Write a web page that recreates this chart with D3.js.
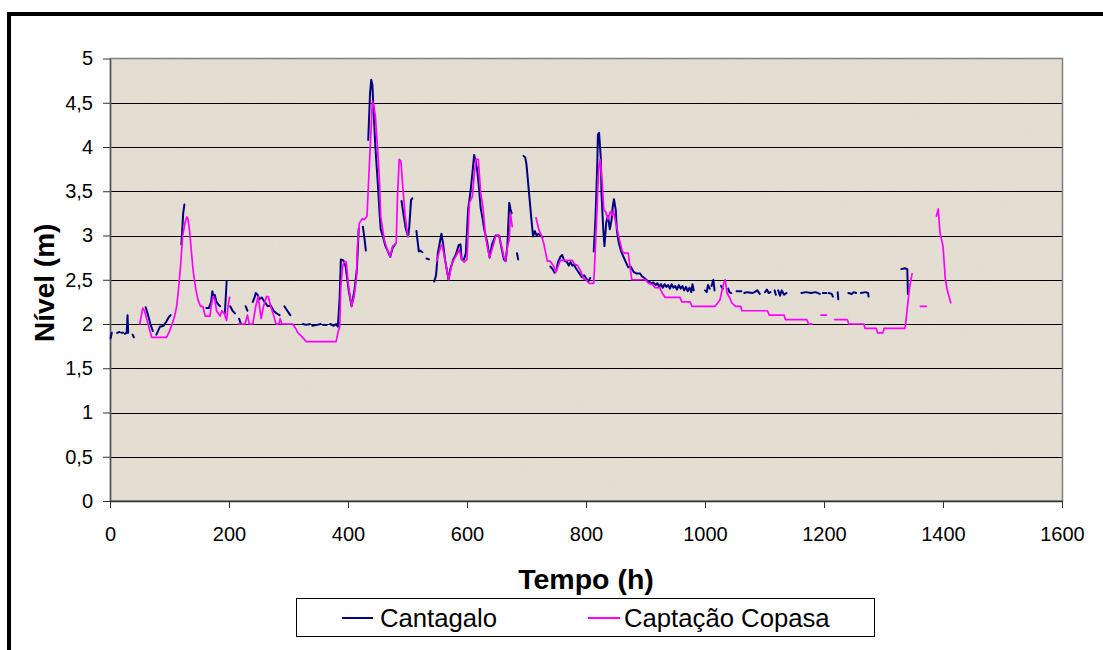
<!DOCTYPE html>
<html>
<head>
<meta charset="utf-8">
<script src="https://cdn.jsdelivr.net/npm/d3@7"></script>
<style>
  html, body { margin: 0; padding: 0; background: #ffffff; }
  svg { display: block; }
  text { font-family: "Liberation Sans", Arial, sans-serif; fill: #000; }
</style>
</head>
<body>
<svg id="chart" width="1103" height="650"></svg>
<script>
// ---------------- DATA ----------------
const xTicks = [0, 200, 400, 600, 800, 1000, 1200, 1400, 1600];
const yTicks = [0, 0.5, 1, 1.5, 2, 2.5, 3, 3.5, 4, 4.5, 5];
const yTickLabels = ["0", "0,5", "1", "1,5", "2", "2,5", "3", "3,5", "4", "4,5", "5"];
const seriesNames = ["Cantagalo", "Captação Copasa"];
const xTitle = "Tempo (h)";
const yTitle = "Nível (m)";

// [tempo (h), nível (m)] ; null = gap in the record
const cantagalo = [
  [1,1.84],[3,1.9],null,
  [12,1.9],[16,1.91],null,
  [19,1.9],[22,1.9],null,
  [25,1.89],[28,1.9],[29.5,2.1],[30.5,1.9],null,
  [38,1.88],[40,1.85],null,
  [60,2.19],[64,2.1],[68,2.0],[72,1.92],null,
  [78,1.88],[84,1.97],[90,1.98],[95,2.03],[99,2.08],[102,2.1],null,
  [120,2.9],[123,3.25],[125,3.35],null,
  [162,2.18],[166,2.18],[170,2.25],[172,2.37],[174,2.3],[176,2.33],[179,2.25],[182,2.22],[185,2.2],null,
  [193,2.12],[195,2.35],[196,2.48],null,
  [202,2.2],[206,2.15],[210,2.12],null,
  [217,2.06],[220,2.0],null,
  [228,2.2],[231,2.15],null,
  [240,2.25],[243,2.3],[245,2.35],[248,2.33],[251,2.28],[255,2.3],[260,2.25],[265,2.2],[270,2.21],[275,2.15],[280,2.12],[285,2.1],null,
  [293,2.2],[298,2.15],[303,2.1],null,
  [324,2.0],[330,1.99],[336,2.0],null,[340,1.98],[348,1.99],[354,2.0],null,[358,1.99],[364,1.99],null,
  [370,2.0],[376,1.98],[380,2.0],[383,1.97],[386,2.3],[388,2.73],[392,2.72],[396,2.65],[401,2.39],[406,2.2],[411,2.39],[415,2.62],[418,3.08],null,
  [425,3.1],[428,2.95],[430,2.83],null,
  [434,4.08],[437,4.6],[439,4.76],[441,4.7],[443,4.4],[446,4.0],[450,3.6],[453,3.26],[455,3.07],[459,2.98],[463,2.88],[467,2.82],[471,2.76],[475,2.86],[479,2.9],null,
  [490,3.39],[493,3.25],[497,3.08],[501,2.99],[503,3.1],[506,3.4],[508,3.42],null,
  [515,3.05],[519,2.82],[521,2.83],[525,2.81],null,
  [532,2.74],[536,2.73],null,
  [545,2.48],[548,2.55],[551,2.8],[557,3.02],[560,2.9],[563,2.73],[569,2.5],[572,2.62],[577,2.73],[581,2.78],[586,2.89],[589,2.9],[591,2.73],[595,2.73],[598,2.8],
  [602,3.3],[606,3.5],[609,3.7],[612,3.91],[614,3.85],[617,3.75],[620,3.55],[623,3.31],[626,3.2],[629,3.07],[634,2.92],[638,2.75],[642,2.9],[648,3.0],[654,3.0],
  [658,2.86],[662,2.73],[665,2.71],[668,2.9],[671,3.37],[673,3.3],[675,3.25],null,
  [684,2.8],[686,2.73],null,
  [695,3.9],[698,3.88],[700,3.8],[704,3.5],[708,3.2],[711,2.99],[714,3.05],[717,3.0],[720,3.02],[724,3.0],[727,2.98],null,
  [740,2.65],[744,2.62],[747,2.58],[750,2.6],[753,2.7],[757,2.76],[760,2.78],[763,2.72],[768,2.7],[771,2.66],[774,2.7],[777,2.66],[780,2.67],[783,2.63],[788,2.58],[793,2.53],[797,2.55],[800,2.52],[804,2.48],[807,2.52],null,
  [813,2.82],[816,3.2],[819,3.82],[820,4.14],[822,4.16],[825,3.86],[826,3.48],[829,3.07],[831,2.88],[834,3.15],[837,3.22],[840,3.07],[843,3.18],[845,3.33],[847,3.41],[850,3.29],[852,3.05],[855,2.92],
  [859,2.82],[863,2.76],[867,2.7],[871,2.64],[875,2.65],[880,2.59],[885,2.57],[891,2.57],[894,2.54],[898,2.52],[901,2.5],[906,2.48],[910,2.46],[913,2.47],
  [917,2.44],[920,2.46],[923,2.42],[926,2.45],[929,2.41],[932,2.45],[935,2.42],[938,2.44],[941,2.4],[944,2.45],[947,2.41],[950,2.43],[953,2.39],[956,2.44],
  [959,2.4],[962,2.43],[965,2.38],[968,2.42],[971,2.37],[974,2.41],[977,2.36],[979,2.45],[981,2.38],null,
  [1000,2.38],[1003,2.36],[1005,2.44],[1008,2.4],null,[1011,2.43],[1014,2.5],[1016,2.38],null,
  [1027,2.43],[1030,2.4],null,
  [1039,2.4],[1041,2.36],[1044,2.35],null,
  [1053,2.37],[1061,2.37],null,
  [1066,2.35],[1071,2.36],[1080,2.35],null,
  [1083,2.36],[1088,2.38],[1092,2.34],null,
  [1101,2.36],[1104,2.39],[1107,2.35],[1110,2.36],null,
  [1117,2.38],[1119,2.33],null,
  [1123,2.38],[1126,2.32],[1129,2.38],[1133,2.33],[1137,2.35],null,
  [1162,2.35],[1170,2.36],[1178,2.35],[1186,2.36],[1193,2.34],null,
  [1198,2.35],[1204,2.35],null,
  [1208,2.35],[1213,2.34],[1215,2.31],null,
  [1223,2.36],[1224,2.28],null,
  [1241,2.35],[1247,2.34],[1250,2.36],[1254,2.35],null,
  [1262,2.35],[1270,2.36],[1274,2.35],[1275,2.31],null,
  [1330,2.62],[1336,2.63],[1340,2.62],[1341,2.34]
];

const captacaoCopasa = [
  [50,2.0],[55,2.18],[58,2.15],[62,2.05],[66,1.95],[70,1.85],[80,1.85],[95,1.85],[100,1.92],[104,1.99],[109,2.1],[112,2.2],[115,2.38],[119,2.69],[122,2.99],
  [126,3.14],[129,3.21],[131,3.19],[134,3.04],[137,2.8],[140,2.59],[144,2.4],[148,2.27],[152,2.2],[156,2.2],[160,2.09],[168,2.09],[170,2.2],[173,2.31],[176,2.28],
  [179,2.15],[185,2.09],[188,2.15],[192,2.12],[196,2.04],[199,2.23],[201,2.3],null,
  [215,2.0],[227,2.0],[231,2.1],[234,2.0],[240,2.0],[245,2.2],[249,2.31],[254,2.06],[258,2.2],[263,2.31],[266,2.31],[270,2.2],[275,2.1],[279,2.0],[284,2.0],[286,2.06],
  [289,2.0],[307,2.0],[312,1.95],[316,1.9],[322,1.86],[330,1.8],[380,1.8],[383,1.9],[386,1.97],[388,2.42],[391,2.65],[394,2.71],[397,2.7],[401,2.42],[406,2.2],
  [410,2.3],[414,2.5],[416,2.88],[419,3.14],[424,3.19],[427,3.18],[430,3.2],[432,3.22],[435,3.67],[439,4.23],[441,4.52],[443,4.48],[446,4.35],[450,3.95],[453,3.6],
  [455,3.22],[461,2.95],[467,2.82],[471,2.76],[475,2.88],[481,2.91],[483,3.41],[486,3.86],[489,3.84],[492,3.56],[496,3.22],[500,3.02],[501,2.99],null,
  [549,2.71],[556,2.88],[558,2.9],[563,2.73],[569,2.5],[575,2.69],[580,2.75],[587,2.84],[591,2.73],[595,2.7],[600,2.73],[604,3.37],[609,3.44],[612,3.67],[615,3.86],
  [619,3.86],[623,3.48],[627,3.31],[631,3.0],[634,2.88],[638,2.75],[641,2.82],[645,2.91],[648,2.99],[654,3.0],[658,2.88],[662,2.76],[665,2.71],[668,2.88],[671,2.95],
  [673,3.25],[676,3.1],null,
  [716,3.2],[721,3.06],[725,3.0],[729,2.91],[735,2.71],[740,2.71],[746,2.65],[749,2.58],[754,2.67],[757,2.72],[777,2.72],[780,2.68],[786,2.66],[791,2.6],[796,2.51],
  [800,2.5],[805,2.46],[813,2.46],[816,2.89],[819,3.37],[821,3.74],[824,3.86],[827,3.63],[830,3.29],[833,3.27],[837,3.18],[841,3.27],[844,3.23],[846,3.28],[849,3.18],
  [855,2.99],[861,2.82],[865,2.8],[871,2.8],[877,2.5],[900,2.5],[905,2.46],[913,2.44],[916,2.41],[924,2.41],[928,2.35],[933,2.3],[958,2.3],[961,2.25],[975,2.25],
  [978,2.2],[1017,2.2],[1025,2.27],[1031,2.45],[1034,2.5],[1037,2.35],[1042,2.29],[1045,2.24],[1051,2.2],[1060,2.2],[1062,2.15],[1105,2.15],[1108,2.1],[1133,2.1],
  [1135,2.05],[1171,2.05],[1174,2.0],[1180,2.0],null,
  [1195,2.1],[1204,2.1],null,
  [1218,2.05],[1239,2.05],[1242,2.0],[1267,2.0],[1269,1.95],[1288,1.95],[1290,1.9],[1299,1.9],[1301,1.95],[1336,1.95],[1338,2.05],[1341,2.24],[1344,2.42],[1348,2.57],null,
  [1362,2.2],[1372,2.2],null,
  [1389,3.22],[1392,3.3],[1393,3.2],[1395,3.03],[1400,2.88],[1404,2.5],[1407,2.39],[1413,2.24]
];

const seriesColors = ["#000080", "#FF00FF"];

// ---------------- LAYOUT ----------------
const svg = d3.select("#chart");
const plot = { left: 110, right: 1062, top: 58.5, bottom: 501 };

const x = d3.scaleLinear().domain([0, 1600]).range([plot.left, plot.right]);
const y = d3.scaleLinear().domain([0, 5]).range([plot.bottom, plot.top]);

// outer chart frame (thick black, partly outside the window)
svg.append("rect")
  .attr("x", 9).attr("y", 14)
  .attr("width", 1200).attr("height", 700)
  .attr("fill", "none").attr("stroke", "#000").attr("stroke-width", 4);

// plot area background (newsprint-like beige)
const defs = svg.append("defs");
const f = defs.append("filter").attr("id", "grain").attr("x", 0).attr("y", 0).attr("width", 1).attr("height", 1);
f.append("feTurbulence").attr("type", "fractalNoise").attr("baseFrequency", 0.55).attr("numOctaves", 2).attr("seed", 7).attr("result", "n");
f.append("feColorMatrix").attr("in", "n").attr("type", "matrix")
  .attr("values", "0 0 0 0 0.55  0 0 0 0 0.52  0 0 0 0 0.47  0 0 0 -2.2 1.05");
f.append("feComposite").attr("operator", "in").attr("in2", "SourceGraphic");

svg.append("rect")
  .attr("x", plot.left).attr("y", plot.top)
  .attr("width", plot.right - plot.left).attr("height", plot.bottom - plot.top)
  .attr("fill", "#E4DDD1");
svg.append("rect")
  .attr("x", plot.left).attr("y", plot.top)
  .attr("width", plot.right - plot.left).attr("height", plot.bottom - plot.top)
  .attr("fill", "#000").attr("opacity", 0.1)
  .attr("filter", "url(#grain)");

// gridlines
svg.append("g")
  .selectAll("line")
  .data(yTicks.filter(v => v > 0 && v < 5))
  .join("line")
  .attr("x1", plot.left).attr("x2", plot.right)
  .attr("y1", d => Math.round(y(d)) + 0.5).attr("y2", d => Math.round(y(d)) + 0.5)
  .attr("stroke", "#000").attr("stroke-width", 1);

// plot border (top / right gray)
svg.append("rect")
  .attr("x", plot.left + 0.5).attr("y", plot.top)
  .attr("width", plot.right - plot.left).attr("height", plot.bottom - plot.top)
  .attr("fill", "none").attr("stroke", "#808080").attr("stroke-width", 1.5);

// y axis
const yAxis = svg.append("g")
  .attr("transform", `translate(${plot.left},0)`)
  .call(d3.axisLeft(y).tickValues(yTicks).tickFormat((d, i) => yTickLabels[i]).tickSize(7).tickPadding(10).tickSizeOuter(0));
yAxis.select(".domain").attr("stroke", "#555").attr("stroke-width", 1.5);
yAxis.selectAll(".tick line").attr("stroke", "#333");
yAxis.selectAll("text").style("font-size", "20px").attr("fill", "#000");

// x axis
const xAxis = svg.append("g")
  .attr("transform", `translate(0,${plot.bottom})`)
  .call(d3.axisBottom(x).tickValues(xTicks).tickFormat(d3.format("d")).tickSize(7).tickPadding(19).tickSizeOuter(0));
xAxis.select(".domain").attr("stroke", "#333").attr("stroke-width", 1.5);
xAxis.selectAll(".tick line").attr("stroke", "#333");
xAxis.selectAll("text").style("font-size", "20px").attr("fill", "#000");

// series
const line = d3.line()
  .defined(d => d !== null)
  .x(d => x(d[0]))
  .y(d => y(d[1]));

const seriesData = [cantagalo, captacaoCopasa];
seriesData.forEach((data, i) => {
  svg.append("path")
    .datum(data)
    .attr("d", line)
    .attr("fill", "none")
    .attr("stroke", seriesColors[i])
    .attr("stroke-width", i === 0 ? 2 : 1.7)
    .attr("stroke-linejoin", "round")
    .attr("stroke-linecap", "round");
});

// axis titles
svg.append("text")
  .attr("x", (plot.left + plot.right) / 2).attr("y", 589)
  .attr("text-anchor", "middle")
  .style("font-size", "28.5px").style("font-weight", "bold")
  .text(xTitle);

svg.append("text")
  .attr("transform", `translate(54,${(plot.top + plot.bottom) / 2 + 3}) rotate(-90)`)
  .attr("text-anchor", "middle")
  .style("font-size", "28px").style("font-weight", "bold")
  .text(yTitle);

// legend
const lg = svg.append("g");
lg.append("rect")
  .attr("x", 296.5).attr("y", 598.5).attr("width", 578).attr("height", 38)
  .attr("fill", "#fff").attr("stroke", "#000").attr("stroke-width", 1);
const legendItems = [
  { x0: 342, x1: 373, tx: 380 },
  { x0: 588, x1: 620, tx: 624 }
];
legendItems.forEach((it, i) => {
  lg.append("line")
    .attr("x1", it.x0).attr("x2", it.x1).attr("y1", 618).attr("y2", 618)
    .attr("stroke", seriesColors[i]).attr("stroke-width", 2);
  lg.append("text")
    .attr("x", it.tx).attr("y", 627)
    .style("font-size", "25.7px")
    .text(seriesNames[i]);
});
</script>
</body>
</html>
